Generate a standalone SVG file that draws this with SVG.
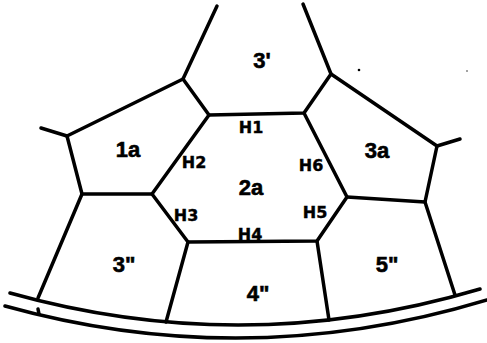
<svg xmlns="http://www.w3.org/2000/svg" width="487" height="343" viewBox="0 0 487 343">
<style>
.e{stroke:#000;stroke-width:3.5;fill:none;stroke-linecap:round;stroke-linejoin:round}
.big{font-family:"Liberation Sans",Arial,sans-serif;font-weight:bold;font-size:22px;text-anchor:middle;fill:#000;stroke:#000;stroke-width:0.6}
.h{font-family:"DejaVu Sans",sans-serif;font-weight:bold;font-size:16px;text-anchor:middle;fill:#000;stroke:#000;stroke-width:0.4}
</style>
<rect width="487" height="343" fill="#fff"/>
<g id="connectors">
<path class="e" d="M217,6 L183,79 L209,115 L304,113 L331,74 L303,4"/>
<path class="e" d="M183,79 L67,136 L41,128"/>
<path class="e" d="M67,136 L82,194 L152,194 L209,115"/>
<path class="e" d="M152,194 L188,242 L317,241 L347,197 L304,113"/>
<path class="e" d="M331,74 L437,146 L460,139"/>
<path class="e" d="M437,146 L425,202 L347,197"/>
<path class="e" d="M425,202 L455,295"/>
<path class="e" d="M82,194 L38,298"/>
<path class="e" d="M188,242 L166,322"/>
<path class="e" d="M317,241 L329,320"/>
<path class="e" d="M10,293 Q245,359 480,289"/>
<path class="e" d="M5,306 Q246,373 487,300"/>
<path class="e" stroke-width="2" d="M38,309 L39,314"/>
</g>
<g id="specks" fill="#000">
<circle cx="359" cy="70" r="1.3"/>
<circle cx="467" cy="71" r="0.7"/>
</g>
<g id="cell-3p"><text class="big" x="262" y="68">3'</text></g>
<g id="cell-1a"><text class="big" x="128" y="157">1a</text></g>
<g id="cell-3a"><text class="big" x="377" y="158">3a</text></g>
<g id="cell-2a"><text class="big" x="251" y="195">2a</text></g>
<g id="cell-3pp"><text class="big" x="124" y="272">3"</text></g>
<g id="cell-4pp"><text class="big" x="258" y="301">4"</text></g>
<g id="cell-5pp"><text class="big" x="387" y="272">5"</text></g>
<g id="hexagon-labels">
<text class="h" x="251" y="133">H1</text>
<text class="h" x="194" y="168">H2</text>
<text class="h" x="186" y="221">H3</text>
<text class="h" x="250" y="240">H4</text>
<text class="h" x="315" y="218">H5</text>
<text class="h" x="311" y="171">H6</text>
</g>
</svg>
